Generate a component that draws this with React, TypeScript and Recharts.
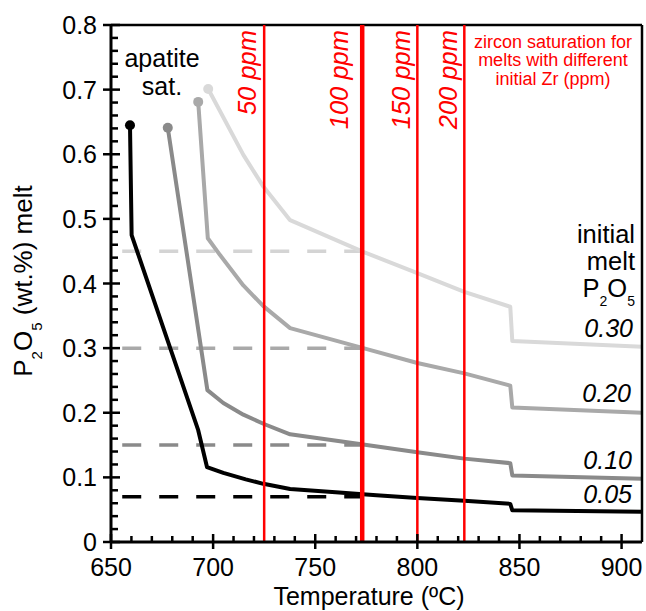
import React from "react";
import { LineChart, Line, XAxis, YAxis, ReferenceLine } from "recharts";

const FONT = '"Liberation Sans", Arial, Helvetica, sans-serif';

// temperature (ºC) ticks and P2O5 (wt.%) ticks
const xMajorTicks = [650, 700, 750, 800, 850, 900];
const yMajorTicks = [0, 0.1, 0.2, 0.3, 0.4, 0.5, 0.6, 0.7, 0.8];

// apatite-saturated melt P2O5 paths, [T, P2O5]
const melt005: [number, number][] = [
  [659.3, 0.645], [660.1, 0.475], [692.7, 0.173], [697, 0.116], [705, 0.107],
  [716, 0.097], [724.6, 0.09], [737.7, 0.082], [760, 0.077], [780, 0.0725],
  [800, 0.068], [823, 0.064], [845.5, 0.059], [846.5, 0.049], [910, 0.047],
];
const melt010: [number, number][] = [
  [677.8, 0.641], [697.2, 0.235], [705, 0.215], [714.8, 0.197], [724.6, 0.183],
  [737.7, 0.1667], [773.5, 0.151], [800, 0.139], [823, 0.129], [845.5, 0.122],
  [846.5, 0.103], [910, 0.098],
];
const melt020: [number, number][] = [
  [692.7, 0.681], [697.4, 0.47], [703.4, 0.444], [714.8, 0.397], [724.6, 0.365],
  [737.7, 0.331], [773.5, 0.3], [800, 0.277], [823, 0.261], [845.5, 0.242],
  [846.5, 0.208], [910, 0.2],
];
const melt030: [number, number][] = [
  [697.6, 0.701], [714.8, 0.599], [724.6, 0.55], [737.7, 0.498], [773.5, 0.449],
  [800, 0.416], [823, 0.387], [845.5, 0.364], [846.5, 0.311], [910, 0.302],
];

// dashed reference levels
const dashLevels = [0.45, 0.3, 0.15, 0.07];
const dashStartT = 655.5;
const dashEndT = 773;

// zircon saturation temperatures
const zirconT = [725, 773, 800, 823];
const zirconLabels = ["50 ppm", "100 ppm", "150 ppm", "200 ppm"];

const curveColors = ["#000000", "#8a8a8a", "#a9a9a9", "#d9d9d9"];
const dashColors = ["#d4d4d4", "#a9a9a9", "#8a8a8a", "#000000"];
const labelGap = [8, 14, 7, 7];

const toPts = (arr: [number, number][]) => arr.map(([t, p]) => ({ t, p }));

const xTicks: number[] = [];
for (let i = 0; i <= 25; i++) xTicks.push(650 + i * 10);
const yTicks: number[] = [];
for (let i = 0; i <= 40; i++) yTicks.push(Math.round(i * 2) / 100);

const XTick = (props: any) => {
  const { x, y, payload } = props;
  const v = payload.value;
  const major = xMajorTicks.includes(v);
  return (
    <g>
      <line x1={x} x2={x} y1={y - (major ? 8 : 6)} y2={y + (major ? 7 : 0)} stroke="#000" strokeWidth={2.5} />
      {major && (
        <text x={x} y={y + 34} textAnchor="middle" fontSize={25} fontFamily={FONT} fill="#000">
          {v}
        </text>
      )}
    </g>
  );
};

const YTick = (props: any) => {
  const { x, y, payload } = props;
  const v = payload.value;
  const major = Math.round(v * 50) % 5 === 0;
  return (
    <g>
      <line x1={x - (major ? 8 : 0)} x2={x + (major ? 9 : 7)} y1={y} y2={y} stroke="#000" strokeWidth={2.5} />
      {major && (
        <text x={x - 14} y={y} dy="0.36em" textAnchor="end" fontSize={25} fontFamily={FONT} fill="#000">
          {v === 0 ? "0" : String(v)}
        </text>
      )}
    </g>
  );
};

const startDot = (color: string) => (props: any) => {
  const { cx, cy, index } = props;
  if (index !== 0) return <g key={`d${index}`} />;
  return <circle key={`d${index}`} cx={cx} cy={cy} r={5} fill={color} />;
};

const zirconLabel = (text: string, gap: number) => (props: any) => {
  const vb = props.viewBox || {};
  const x = vb.x - gap;
  const y = Math.min(vb.y, vb.y + (vb.height || 0)) + 5;
  return (
    <text
      x={x}
      y={y}
      transform={`rotate(-90 ${x} ${y})`}
      textAnchor="end"
      fill="#ff0000"
      fontSize={25.5}
      fontStyle="italic"
      fontFamily={FONT}
    >
      {text}
    </text>
  );
};

const Sub = ({ children, size = 14, dy = 9 }: any) => (
  <tspan fontSize={size} dy={dy}>{children}</tspan>
);

export default function App() {
  const curves = [melt005, melt010, melt020, melt030];
  return (
    <div style={{ position: "absolute", left: 0, top: 0, width: 646, height: 611, background: "#fff" }}>
      <LineChart width={646} height={611} margin={{ top: 25, right: 4, bottom: 0, left: 0 }}>
        <XAxis
          type="number"
          dataKey="t"
          domain={[650, 910]}
          ticks={xTicks}
          interval={0}
          allowDataOverflow
          height={69}
          tickSize={0}
          tickMargin={0}
          tickLine={false}
          tick={XTick}
          axisLine={{ stroke: "#000", strokeWidth: 3 }}
        />
        <YAxis
          type="number"
          dataKey="p"
          domain={[0, 0.8]}
          ticks={yTicks}
          interval={0}
          allowDataOverflow
          width={111}
          tickSize={0}
          tickMargin={0}
          tickLine={false}
          tick={YTick}
          axisLine={{ stroke: "#000", strokeWidth: 3 }}
        />
        {dashLevels.map((lvl, i) => (
          <Line
            key={`dash${i}`}
            data={[{ t: dashStartT, p: lvl }, { t: dashEndT, p: lvl }]}
            dataKey="p"
            type="linear"
            stroke={dashColors[i]}
            strokeWidth={3.5}
            strokeDasharray="19 18"
            dot={false}
            activeDot={false}
            isAnimationActive={false}
          />
        ))}
        {curves.map((c, i) => (
          <Line
            key={`curve${i}`}
            data={toPts(c)}
            dataKey="p"
            type="linear"
            stroke={curveColors[i]}
            strokeWidth={4}
            strokeLinejoin="round"
            dot={startDot(curveColors[i])}
            activeDot={false}
            isAnimationActive={false}
          />
        ))}
        <ReferenceLine y={0.8} stroke="#000" strokeWidth={2.5} />
        <ReferenceLine x={910} stroke="#000" strokeWidth={2.5} />
        {zirconT.map((t, i) => (
          <ReferenceLine
            key={`zr${i}`}
            x={t}
            stroke="#ff0000"
            strokeWidth={i === 1 ? 4.5 : 2.5}
            label={zirconLabel(zirconLabels[i], labelGap[i])}
          />
        ))}
      </LineChart>
      <svg
        width={646}
        height={611}
        style={{ position: "absolute", left: 0, top: 0, pointerEvents: "none" }}
        fontFamily={FONT}
      >
        <text x={162} y={66.7} textAnchor="middle" fontSize={25}>apatite</text>
        <text x={162} y={95} textAnchor="middle" fontSize={25}>sat.</text>

        <g fill="#ff0000" fontSize={18} textAnchor="middle">
          <text x={553} y={47.5}>zircon saturation for</text>
          <text x={553} y={66}>melts with different</text>
          <text x={553} y={84.5}>initial Zr (ppm)</text>
        </g>

        <g fontSize={25.5} textAnchor="end">
          <text x={635} y={243.3}>initial</text>
          <text x={635} y={270}>melt</text>
          <text x={635} y={296.7}>
            P<Sub>2</Sub><tspan dy={-9}>O</tspan><Sub>5</Sub>
          </text>
        </g>

        <g fontSize={25} fontStyle="italic" textAnchor="end">
          <text x={633} y={337.3}>0.30</text>
          <text x={631} y={401.7}>0.20</text>
          <text x={632} y={469}>0.10</text>
          <text x={632} y={503.3}>0.05</text>
        </g>

        <text
          x={32}
          y={281}
          transform="rotate(-90 32 281)"
          textAnchor="middle"
          fontSize={26}
        >
          P<Sub size={15} dy={9.5}>2</Sub><tspan dy={-9.5}>O</tspan><Sub size={15} dy={9.5}>5</Sub>
          <tspan dy={-9.5}> (wt.%) melt</tspan>
        </text>

        <text x={369} y={605} textAnchor="middle" fontSize={25}>Temperature (ºC)</text>
      </svg>
    </div>
  );
}
